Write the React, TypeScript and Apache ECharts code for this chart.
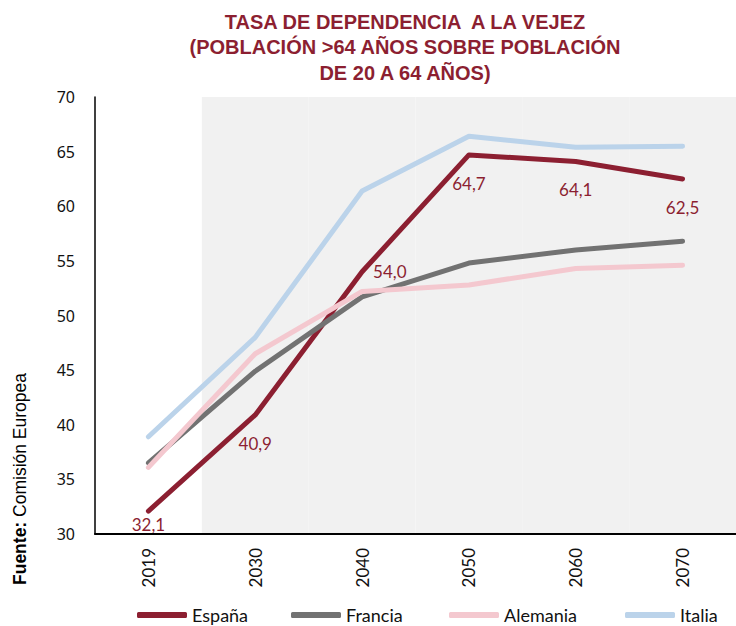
import React, { useEffect, useRef } from "react";
import * as echarts from "echarts";

const years = ["2019", "2030", "2040", "2050", "2060", "2070"];
const espana = [32.1, 40.9, 54.0, 64.7, 64.1, 62.5];
const francia = [36.5, 44.9, 51.7, 54.8, 56.0, 56.8];
const alemania = [36.1, 46.5, 52.2, 52.8, 54.3, 54.6];
const italia = [38.9, 48.0, 61.4, 66.4, 65.4, 65.5];
const projectionBand = [null, 70, 70, 70, 70, 70];
const yTicks = { min: 30, max: 70, interval: 5 };
const seriesNames = ["España", "Francia", "Alemania", "Italia"];
const titleLines = [
  "TASA DE DEPENDENCIA  A LA VEJEZ",
  "(POBLACIÓN >64 AÑOS SOBRE POBLACIÓN",
  "DE 20 A 64 AÑOS)",
];

const RED = "#8C1F31";
const GREY = "#727272";
const PINK = "#F4C8CF";
const BLUE = "#BBD3EA";
const FONT = "Lato";

export default function App() {
  const ref = useRef<HTMLDivElement>(null);
  useEffect(() => {
    if (!ref.current) return;
    const chart = echarts.init(ref.current, undefined, { renderer: "svg" });

    const espanaData = espana.map((v, i) => {
      let label: any = { show: true, position: "bottom", distance: 19 };
      if (i === 0) label = { show: true, position: "bottom", distance: 4 };
      if (i === 2) label = { show: true, position: "right", distance: 10 };
      return { value: v, label };
    });

    const lineSeries = (name: string, data: any[], color: string, withLabels: boolean) => ({
      name,
      type: "line",
      data,
      showSymbol: withLabels,
      symbol: "circle",
      symbolSize: 2,
      smooth: false,
      color,
      itemStyle: { color, borderWidth: 0 },
      lineStyle: { width: 5, color, cap: "round", join: "round" },
      label: withLabels
        ? {
            show: true,
            color: RED,
            fontFamily: FONT,
            fontSize: 17,
            formatter: (p: any) => Number(p.value).toFixed(1).replace(".", ","),
          }
        : { show: false },
      emphasis: { disabled: true },
      z: 3,
    });

    const legendLefts = [137, 291, 449, 625];
    const legends = seriesNames.map((n, i) => ({
      data: [n],
      left: legendLefts[i],
      top: 606,
      padding: 0,
      icon: "roundRect",
      itemWidth: 50,
      itemHeight: 6,
      itemGap: 0,
      textStyle: { fontFamily: FONT, fontSize: 18, color: "#111" },
      selectedMode: false,
    }));

    chart.setOption({
      animation: false,
      backgroundColor: "#ffffff",
      grid: { left: 95, top: 97, width: 651, height: 437, containLabel: false },
      legend: legends,
      xAxis: {
        type: "category",
        data: years,
        boundaryGap: true,
        z: 10,
        axisLine: { show: true, lineStyle: { color: "#000", width: 2 } },
        axisTick: { show: false },
        axisLabel: {
          rotate: 90,
          margin: 14,
          color: "#111",
          fontFamily: FONT,
          fontSize: 17,
        },
        splitLine: { show: false },
      },
      yAxis: {
        type: "value",
        min: yTicks.min,
        max: yTicks.max,
        interval: yTicks.interval,
        z: 10,
        axisLine: { show: true, lineStyle: { color: "#000", width: 1.5 } },
        axisTick: { show: false },
        splitLine: { show: false },
        axisLabel: {
          margin: 20,
          color: "#111",
          fontFamily: "Noto Sans",
          fontSize: 16,
        },
      },
      graphic: [
        {
          type: "text",
          x: 405,
          y: 9,
          style: {
            text: titleLines.join("\n"),
            font: 'bold 20px "Liberation Sans", Arial, sans-serif',
            fill: RED,
            textAlign: "center",
            textVerticalAlign: "top",
            lineHeight: 25.5,
          },
        },
        {
          type: "text",
          x: 20,
          y: 479,
          rotation: Math.PI / 2,
          style: {
            text: "{b|Fuente:} Comisión Europea",
            fill: "#000",
            font: '17.5px "Liberation Sans", Arial, sans-serif',
            textAlign: "center",
            textVerticalAlign: "middle",
            rich: {
              b: { fontWeight: "bold", fontSize: 17.5, fontFamily: "Liberation Sans" },
            },
          },
        },
      ],
      series: [
        {
          name: "fondo",
          type: "bar",
          data: projectionBand,
          barWidth: "100%",
          itemStyle: { color: "#F1F1F1" },
          silent: true,
          z: 1,
        },
        lineSeries(seriesNames[0], espanaData, RED, true),
        lineSeries(seriesNames[1], francia, GREY, false),
        lineSeries(seriesNames[2], alemania, PINK, false),
        lineSeries(seriesNames[3], italia, BLUE, false),
      ],
    });
    return () => chart.dispose();
  }, []);
  return (
    <div
      ref={ref}
      style={{ position: "absolute", left: 0, top: 0, width: 736, height: 626, overflow: "hidden" }}
    />
  );
}
